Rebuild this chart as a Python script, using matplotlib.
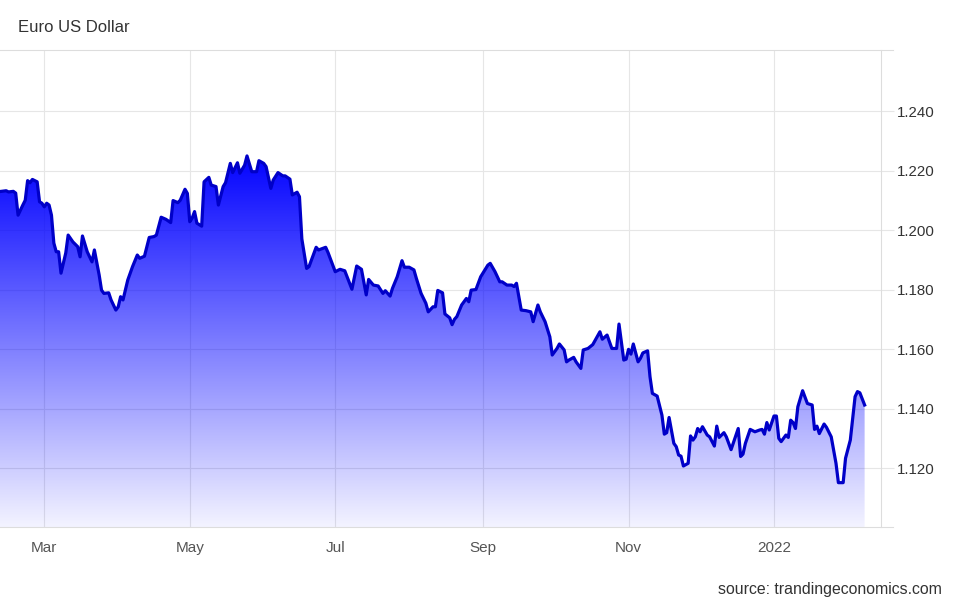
import datetime as dt
import numpy as np
import matplotlib
matplotlib.use('Agg')
import matplotlib.pyplot as plt
import matplotlib.dates as mdates
from matplotlib.patches import Polygon
from matplotlib.colors import LinearSegmentedColormap

plt.rcParams['font.family'] = ['Liberation Sans', 'DejaVu Sans']

# EUR/USD
dates = [
    '2021-02-10', '2021-02-13', '2021-02-14', '2021-02-16', '2021-02-17', '2021-02-18', '2021-02-20', '2021-02-21',
    '2021-02-22', '2021-02-23', '2021-02-24', '2021-02-26', '2021-02-27', '2021-02-28', '2021-03-01', '2021-03-02',
    '2021-03-03', '2021-03-04', '2021-03-05', '2021-03-06', '2021-03-07', '2021-03-08', '2021-03-10', '2021-03-11',
    '2021-03-13', '2021-03-15', '2021-03-16', '2021-03-17', '2021-03-19', '2021-03-20', '2021-03-21', '2021-03-22',
    '2021-03-24', '2021-03-25', '2021-03-26', '2021-03-28', '2021-03-29', '2021-03-31', '2021-04-01', '2021-04-02',
    '2021-04-03', '2021-04-05', '2021-04-07', '2021-04-09', '2021-04-10', '2021-04-12', '2021-04-14', '2021-04-16',
    '2021-04-17', '2021-04-19', '2021-04-21', '2021-04-23', '2021-04-24', '2021-04-26', '2021-04-27', '2021-04-29',
    '2021-04-30', '2021-05-01', '2021-05-02', '2021-05-03', '2021-05-04', '2021-05-06', '2021-05-07', '2021-05-09',
    '2021-05-10', '2021-05-12', '2021-05-13', '2021-05-15', '2021-05-16', '2021-05-17', '2021-05-18', '2021-05-19',
    '2021-05-21', '2021-05-22', '2021-05-24', '2021-05-25', '2021-05-27', '2021-05-29', '2021-05-30', '2021-06-01',
    '2021-06-02', '2021-06-04', '2021-06-05', '2021-06-07', '2021-06-09', '2021-06-10', '2021-06-12', '2021-06-13',
    '2021-06-15', '2021-06-16', '2021-06-17', '2021-06-19', '2021-06-20', '2021-06-23', '2021-06-24', '2021-06-27',
    '2021-06-28', '2021-07-01', '2021-07-03', '2021-07-05', '2021-07-08', '2021-07-10', '2021-07-12', '2021-07-14',
    '2021-07-15', '2021-07-17', '2021-07-19', '2021-07-21', '2021-07-22', '2021-07-24', '2021-07-25', '2021-07-27',
    '2021-07-29', '2021-07-30', '2021-08-01', '2021-08-03', '2021-08-04', '2021-08-06', '2021-08-08', '2021-08-09',
    '2021-08-11', '2021-08-12', '2021-08-13', '2021-08-15', '2021-08-16', '2021-08-18', '2021-08-19', '2021-08-20',
    '2021-08-21', '2021-08-23', '2021-08-25', '2021-08-26', '2021-08-27', '2021-08-29', '2021-08-31', '2021-09-03',
    '2021-09-04', '2021-09-06', '2021-09-08', '2021-09-09', '2021-09-11', '2021-09-13', '2021-09-14', '2021-09-15',
    '2021-09-17', '2021-09-19', '2021-09-21', '2021-09-22', '2021-09-24', '2021-09-25', '2021-09-27', '2021-09-29',
    '2021-09-30', '2021-10-02', '2021-10-03', '2021-10-05', '2021-10-06', '2021-10-07', '2021-10-09', '2021-10-10',
    '2021-10-12', '2021-10-13', '2021-10-15', '2021-10-17', '2021-10-20', '2021-10-21', '2021-10-23', '2021-10-24',
    '2021-10-25', '2021-10-27', '2021-10-28', '2021-10-30', '2021-10-31', '2021-11-01', '2021-11-02', '2021-11-03',
    '2021-11-05', '2021-11-06', '2021-11-07', '2021-11-09', '2021-11-10', '2021-11-11', '2021-11-13', '2021-11-15',
    '2021-11-16', '2021-11-17', '2021-11-18', '2021-11-20', '2021-11-21', '2021-11-22', '2021-11-23', '2021-11-24',
    '2021-11-26', '2021-11-27', '2021-11-28', '2021-11-29', '2021-11-30', '2021-12-01', '2021-12-02', '2021-12-04',
    '2021-12-05', '2021-12-07', '2021-12-08', '2021-12-09', '2021-12-11', '2021-12-12', '2021-12-14', '2021-12-17',
    '2021-12-18', '2021-12-19', '2021-12-20', '2021-12-22', '2021-12-24', '2021-12-26', '2021-12-27', '2021-12-28',
    '2021-12-29', '2021-12-30', '2022-01-01', '2022-01-02', '2022-01-03', '2022-01-04', '2022-01-06', '2022-01-07',
    '2022-01-08', '2022-01-09', '2022-01-10', '2022-01-11', '2022-01-13', '2022-01-15', '2022-01-17', '2022-01-18',
    '2022-01-19', '2022-01-20', '2022-01-22', '2022-01-23', '2022-01-25', '2022-01-27', '2022-01-28', '2022-01-30',
    '2022-01-31', '2022-02-02', '2022-02-04', '2022-02-05', '2022-02-06', '2022-02-08',
]
rates = [
    1.2129, 1.2132, 1.2128, 1.2130, 1.2124, 1.2050, 1.2084, 1.2100,
    1.2166, 1.2159, 1.2170, 1.2162, 1.2095, 1.2090, 1.2078, 1.2090,
    1.2084, 1.2050, 1.1956, 1.1927, 1.1927, 1.1855, 1.1923, 1.1983,
    1.1960, 1.1944, 1.1910, 1.1980, 1.1927, 1.1910, 1.1893, 1.1933,
    1.1849, 1.1798, 1.1787, 1.1789, 1.1765, 1.1731, 1.1742, 1.1776,
    1.1765, 1.1832, 1.1877, 1.1916, 1.1905, 1.1912, 1.1975, 1.1978,
    1.1983, 1.2043, 1.2036, 1.2025, 1.2099, 1.2092, 1.2100, 1.2137,
    1.2123, 1.2028, 1.2040, 1.2062, 1.2023, 1.2013, 1.2162, 1.2177,
    1.2151, 1.2146, 1.2084, 1.2146, 1.2159, 1.2191, 1.2224, 1.2193,
    1.2226, 1.2191, 1.2218, 1.2249, 1.2196, 1.2196, 1.2233, 1.2224,
    1.2213, 1.2140, 1.2168, 1.2193, 1.2182, 1.2182, 1.2171, 1.2118,
    1.2127, 1.2112, 1.1970, 1.1871, 1.1877, 1.1942, 1.1933, 1.1942,
    1.1924, 1.1860, 1.1868, 1.1863, 1.1801, 1.1879, 1.1868, 1.1782,
    1.1834, 1.1815, 1.1812, 1.1787, 1.1796, 1.1778, 1.1804, 1.1843,
    1.1897, 1.1875, 1.1875, 1.1866, 1.1838, 1.1787, 1.1754, 1.1725,
    1.1742, 1.1742, 1.1797, 1.1789, 1.1718, 1.1705, 1.1682, 1.1700,
    1.1709, 1.1748, 1.1770, 1.1759, 1.1798, 1.1800, 1.1843, 1.1882,
    1.1888, 1.1860, 1.1826, 1.1826, 1.1815, 1.1815, 1.1810, 1.1821,
    1.1731, 1.1729, 1.1725, 1.1692, 1.1748, 1.1725, 1.1692, 1.1641,
    1.1580, 1.1602, 1.1617, 1.1597, 1.1557, 1.1563, 1.1572, 1.1557,
    1.1535, 1.1597, 1.1602, 1.1615, 1.1658, 1.1633, 1.1647, 1.1625,
    1.1602, 1.1602, 1.1684, 1.1563, 1.1566, 1.1599, 1.1583, 1.1617,
    1.1557, 1.1569, 1.1587, 1.1594, 1.1507, 1.1451, 1.1442, 1.1378,
    1.1314, 1.1319, 1.1370, 1.1283, 1.1272, 1.1244, 1.1240, 1.1207,
    1.1216, 1.1308, 1.1294, 1.1305, 1.1333, 1.1322, 1.1339, 1.1311,
    1.1305, 1.1274, 1.1341, 1.1303, 1.1319, 1.1305, 1.1262, 1.1333,
    1.1239, 1.1247, 1.1283, 1.1330, 1.1322, 1.1328, 1.1330, 1.1314,
    1.1353, 1.1328, 1.1375, 1.1375, 1.1300, 1.1289, 1.1311, 1.1303,
    1.1361, 1.1353, 1.1333, 1.1406, 1.1460, 1.1417, 1.1412, 1.1330,
    1.1341, 1.1316, 1.1348, 1.1337, 1.1305, 1.1216, 1.1151, 1.1151,
    1.1233, 1.1294, 1.1440, 1.1457, 1.1453, 1.1412,
]
month_ticks = ['2021-03-01', '2021-05-01', '2021-07-01', '2021-09-01', '2021-11-01', '2022-01-01']
month_labels = ['Mar', 'May', 'Jul', 'Sep', 'Nov', '2022']
y_ticks = [1.12, 1.14, 1.16, 1.18, 1.20, 1.22, 1.24]

grid_c = '#e6e6e6'
line_c = '#0000c8'
text_c = '#333333'

xd = mdates.date2num([dt.datetime.strptime(d, '%Y-%m-%d') for d in dates])
xt = mdates.date2num([dt.datetime.strptime(d, '%Y-%m-%d') for d in month_ticks])
y = np.array(rates)

x0 = mdates.date2num(dt.datetime(2021, 3, 1)) - 18.58
x1 = mdates.date2num(dt.datetime(2021, 3, 1)) + 350.66
ylo, yhi = 1.1002, 1.2605

fig = plt.figure(figsize=(9.56, 6.0), dpi=100)
ax = fig.add_axes([0.0, 1 - 527 / 600, 880.5 / 956, 477 / 600])
ax.set_axisbelow(True)

# gradient area fill, blue fading out toward the bottom
poly = Polygon(np.column_stack([np.r_[xd[0], xd, xd[-1]], np.r_[ylo, y, ylo]]),
               closed=True, facecolor='none', edgecolor='none')
ax.add_patch(poly)
cmap = LinearSegmentedColormap.from_list('fade', [(0, 0, 1, 0.05), (0, 0, 1, 1.0)])
grad = np.linspace(0, 1, 256).reshape(-1, 1)
im = ax.imshow(grad, cmap=cmap, aspect='auto', origin='lower',
               extent=[xd[0], xd[-1], ylo, 1.226], zorder=1, interpolation='bilinear')
im.set_clip_path(poly)

ax.plot(xd, y, color=line_c, lw=2.3, zorder=3, solid_joinstyle='round')

ax.set_xlim(x0, x1)
ax.set_ylim(ylo, yhi)

ax.set_xticks(xt)
ax.set_xticklabels(month_labels)
ax.set_yticks(y_ticks)
ax.set_yticklabels(['%.3f' % v for v in y_ticks])
ax.yaxis.tick_right()
ax.tick_params(axis='x', length=0, pad=10, labelsize=11, labelcolor='#555555')
ax.tick_params(axis='y', length=9, width=0.8, color=grid_c, pad=3, labelsize=10.8, labelcolor=text_c)
ax.grid(True, color=grid_c, lw=0.8)

for s in ['left', 'top', 'bottom']:
    ax.spines[s].set_visible(False)
ax.spines['right'].set_color('#dddddd')
ax.spines['right'].set_linewidth(0.8)

# top and bottom frame lines run a little past the right edge
ext = 893 / 880.5
for yy in (0, 1):
    ax.plot([0, ext], [yy, yy], transform=ax.transAxes, color='#dddddd', lw=0.8, clip_on=False, zorder=4)

fig.text(18 / 956, 1 - 32 / 600, 'Euro US Dollar', fontsize=12, color=text_c, ha='left', va='baseline')
fig.text(942 / 956, 1 - 594 / 600, 'source: trandingeconomics.com', fontsize=11.4, color=text_c,
         ha='right', va='baseline')

fig.savefig('out.png', dpi=100)
